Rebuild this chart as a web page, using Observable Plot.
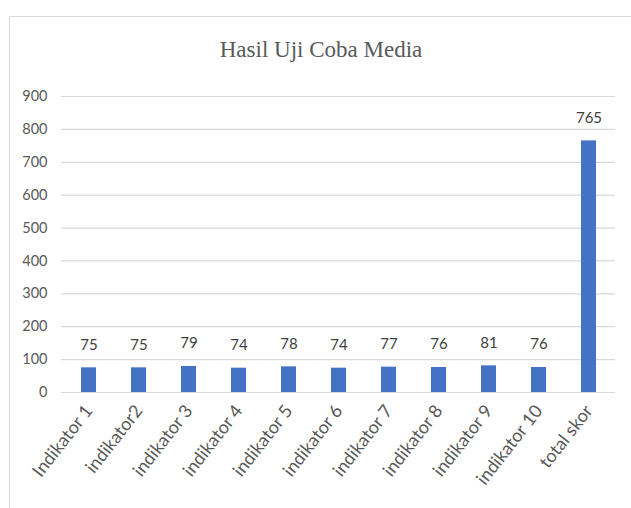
<!DOCTYPE html>
<html>
<head>
<meta charset="utf-8">
<script src="https://cdn.jsdelivr.net/npm/d3@7"></script>
<script src="https://cdn.jsdelivr.net/npm/@observablehq/plot@0.6"></script>
<style>
  body { margin: 0; background: #fff; }
  #wrap { position: relative; width: 631px; height: 508px; overflow: hidden; background: #fff; }
  #frame { position: absolute; left: 9px; top: 16px; width: 640px; height: 520px; border: 1px solid #d9d9d9; box-sizing: border-box; }
  #title { position: absolute; left: 0; top: 35px; width: 642px; text-align: center; font-family: "Liberation Serif", serif; font-size: 23px; color: #595959; line-height: 30px; }
  #chart { position: absolute; left: 0; top: 70px; }
</style>
</head>
<body>
<div id="wrap">
  <div id="frame"></div>
  <div id="title">Hasil Uji Coba Media</div>
  <div id="chart"></div>
</div>
<script>
const categories = ["Indikator 1", "indikator2", "indikator 3", "indikator 4", "indikator 5", "indikator 6", "indikator 7", "indikator 8", "indikator 9", "indikator 10", "total skor"];
const values = [75, 75, 79, 74, 78, 74, 77, 76, 81, 76, 765];
const yTicks = [0, 100, 200, 300, 400, 500, 600, 700, 800, 900];

const data = categories.map((c, i) => ({category: c, value: values[i]}));

const chart = Plot.plot({
  width: 631,
  height: 438,
  marginLeft: 61,
  marginRight: 16,
  marginTop: 26,
  marginBottom: 116,
  style: {fontFamily: "Lato, sans-serif", fontSize: "14.5px", color: "#595959", background: "transparent"},
  x: {domain: categories, paddingInner: 0.7, paddingOuter: 0.35},
  y: {domain: [0, 900]},
  marks: [
    Plot.ruleY(yTicks, {stroke: "#d9d9d9", strokeWidth: 1.2, strokeOpacity: 1}),
    Plot.barY(data, {x: "category", y: "value", fill: "#4472C4"}),
    Plot.text(data, {x: "category", y: "value", text: d => String(d.value), dy: -23, fill: "#404040", fontSize: 15}),
    Plot.axisY({ticks: yTicks, tickSize: 0, tickPadding: 14, label: null, fill: "#595959"}),
    Plot.axisX({tickSize: 0, tickPadding: 15, tickRotate: -52, fontSize: 18, label: null, fill: "#595959"})
  ]
});
document.getElementById("chart").appendChild(chart);
</script>
</body>
</html>
